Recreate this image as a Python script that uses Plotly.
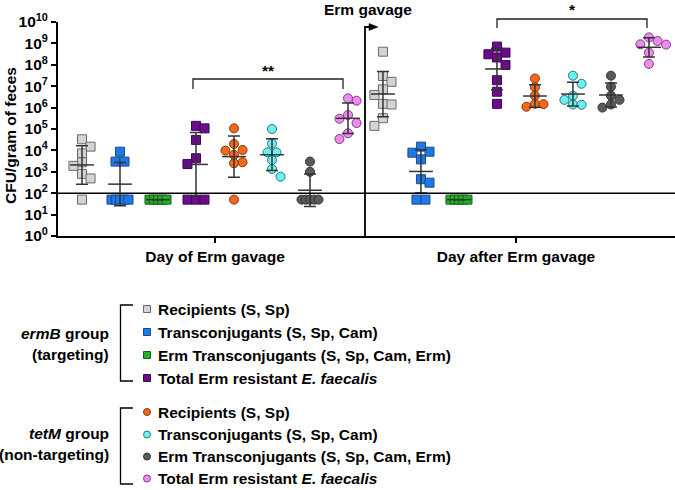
import numpy as np
import plotly.graph_objects as go

# ---------------- data (CFU / gram of feces; 50 = below detection) ----------------
days = ["Day of Erm gavage", "Day after Erm gavage"]
series_names = [
    "Recipients (S, Sp)",
    "Transconjugants (S, Sp, Cam)",
    "Erm Transconjugants (S, Sp, Cam, Erm)",
    "Total Erm resistant <i>E. faecalis</i>",
]
group_names = ["<i>ermB</i> group", "<i>tetM</i> group"]
group_sub = ["(targeting)", "(non-targeting)"]

LOD = 100

ermB_recip_d0 = [3.3e4, 1.5e4, 7.2e3, 2.8e3, 1.9e3, 8e2, 4.9e2, 50]
ermB_trans_d0 = [8.7e3, 3e3, 3e3, 50, 50, 50, 50, 50]
ermB_ermtr_d0 = [50, 50, 50, 50, 50]
ermB_total_d0 = [1.4e5, 1.07e5, 3.1e4, 4.3e3, 2.3e3, 50, 50, 50]
tetM_recip_d0 = [1.07e5, 2e4, 1.05e4, 9.8e3, 6.2e3, 2.8e3, 2.5e3, 50]
tetM_trans_d0 = [1.0e5, 2.1e4, 8.1e3, 8.1e3, 3.5e3, 1.35e3, 5.9e2]
tetM_ermtr_d0 = [3e3, 1e3, 50, 50, 50, 50, 50]
tetM_total_d0 = [2.1e6, 2.7e6, 4.5e5, 3e5, 1.9e5, 6.3e4, 3.4e4]

ermB_recip_d1 = [4.1e8, 3.0e7, 1.6e7, 7.1e6, 3.9e6, 1.5e6, 1.4e6, 3.2e5, 1.4e5]
ermB_trans_d1 = [1.5e4, 8.7e3, 7.8e3, 3.8e3, 4.5e2, 3.1e2, 50, 50]
ermB_ermtr_d1 = [50, 50, 50, 50, 50]
ermB_total_d1 = [7.1e8, 3.7e8, 3.1e8, 2.2e8, 9.8e7, 1.9e7, 5.5e6, 1.5e6]
tetM_recip_d1 = [2.3e7, 8.9e6, 3.6e6, 1.5e6, 1.1e6, 1.45e6]
tetM_trans_d1 = [3.1e7, 1.3e7, 3.6e6, 2.3e6, 1.4e6, 1.35e6]
tetM_ermtr_d1 = [3.1e7, 9.5e6, 3.6e6, 2.3e6, 1.4e6, 1.0e6]
tetM_total_d1 = [1.9e9, 1.3e9, 9.1e8, 8.8e8, 3.7e8, 1.1e8]

panels = [
    [ermB_recip_d0, ermB_trans_d0, ermB_ermtr_d0, ermB_total_d0,
     tetM_recip_d0, tetM_trans_d0, tetM_ermtr_d0, tetM_total_d0],
    [ermB_recip_d1, ermB_trans_d1, ermB_ermtr_d1, ermB_total_d1,
     tetM_recip_d1, tetM_trans_d1, tetM_ermtr_d1, tetM_total_d1],
]
significance = ["**", "*"]

# ---------------- styles ----------------
FILLS = ["#D3D3D3", "#1E78E6", "#22B022", "#6A0C8C",
         "#F2681C", "#6AF2F2", "#5A5A5A", "#F08AF0"]
EDGES = ["#6a6a6a", "#1b4a8a", "#1d5e1d", "#3a0850",
         "#8a3a0c", "#2a7676", "#333333", "#7e3f7e"]
SYMBOLS = ["square"] * 4 + ["circle"] * 4
FONT = "Liberation Sans, Arial, sans-serif"
FS = 15.5

W, H = 675, 490
PLOT_L, PLOT_R, PLOT_T, PLOT_B = 58, 675, 22, 236   # plot area in px
ML, MR, MT, MB = PLOT_L, W - PLOT_R, PLOT_T, H - PLOT_B
PW, PH = PLOT_R - PLOT_L, PLOT_B - PLOT_T
X0PX, XUNIT = 82, 38.0          # px of first group, px per group slot
PANEL_SHIFT = 7.92
PX_PER_DEC = PH / 10.0
MS = 9                            # marker size (px)


def px_x(px):
    return (px - PLOT_L) / PW


def px_y(py):
    return (PLOT_B - py) / PH


def swarm(vals):
    """Simple beeswarm: returns horizontal offsets (px) for the values."""
    logs = np.log10(np.asarray(vals, float))
    ypx = logs * PX_PER_DEC
    n = len(vals)
    off = np.zeros(n)
    placed = []
    levels = sorted(set(logs.tolist()), reverse=True)
    side = 1
    for lv in levels:
        idx = [i for i in range(n) if logs[i] == lv]
        if len(idx) > 1:
            sp = min(MS, (26 - MS) / (len(idx) - 1))
            row = (np.arange(len(idx)) - (len(idx) - 1) / 2) * sp
            for i, dx in zip(idx, row):
                off[i] = dx
                placed.append((dx, ypx[i]))
        else:
            i = idx[0]
            for k in [0, side, -side, 2 * side, -2 * side, 3 * side, -3 * side]:
                dx = k * MS * 0.95
                if all(np.hypot(dx - px, ypx[i] - py) >= MS * 0.9 for px, py in placed):
                    break
            if dx != 0:
                side = -side
            off[i] = dx
            placed.append((dx, ypx[i]))
    return off


fig = go.Figure()

for p, groups in enumerate(panels):
    for g, vals in enumerate(groups):
        xc = g + PANEL_SHIFT * p
        offs = swarm(vals) / XUNIT
        fig.add_trace(go.Scatter(
            x=xc + offs, y=vals, mode="markers", showlegend=False,
            marker=dict(symbol=SYMBOLS[g], size=MS, color=FILLS[g],
                        line=dict(color=EDGES[g], width=1)),
            hoverinfo="y"))

# mean +/- SD (on log scale)
for p, groups in enumerate(panels):
    for g, vals in enumerate(groups):
        lg = np.log10(np.asarray(vals, float))
        m, s = lg.mean(), lg.std(ddof=1)
        fig.add_trace(go.Scatter(
            x=[g + PANEL_SHIFT * p], y=[10 ** m], mode="markers", showlegend=False,
            marker=dict(symbol="line-ew", size=17, color="#333",
                        line=dict(color="#333", width=1.5)),
            error_y=dict(type="data", symmetric=False,
                         array=[10 ** (m + s) - 10 ** m],
                         arrayminus=[10 ** m - 10 ** (m - s)],
                         color="#333", thickness=1.5, width=6),
            hoverinfo="skip"))

shapes = []
annotations = []


def note(text, x, y, xanchor="center", size=FS, angle=0):
    annotations.append(dict(text=text, xref="paper", yref="paper", x=x, y=y,
                            xanchor=xanchor, yanchor="middle", showarrow=False,
                            textangle=angle,
                            font=dict(family=FONT, size=size, color="black")))


# limit of detection line
shapes.append(dict(type="line", xref="paper", yref="paper", x0=0, x1=1,
                   y0=np.log10(LOD) / 10, y1=np.log10(LOD) / 10,
                   line=dict(color="black", width=1.6)))

# Erm gavage separator with arrow
sep_x = px_x(365)
shapes.append(dict(type="path", xref="paper", yref="paper",
                   path=f"M{sep_x},0 L{sep_x},{px_y(27)} L{px_x(370)},{px_y(27)}",
                   line=dict(color="black", width=1.8)))
shapes.append(dict(type="path", xref="paper", yref="paper",
                   path=f"M{px_x(369)},{px_y(23.5)} L{px_x(378)},{px_y(27)} L{px_x(369)},{px_y(30.5)} Z",
                   fillcolor="black", line=dict(color="black", width=0.5)))
note("<b>Erm gavage</b>", px_x(368), px_y(10))

# significance brackets
bracket_px = [(193, 343, 79, 89, 70), (497, 647, 19, 28, 10)]
for (xl, xr, yt, yb, ys), sig in zip(bracket_px, significance):
    shapes.append(dict(type="path", xref="paper", yref="paper",
                       path=f"M{px_x(xl)},{px_y(yb)} L{px_x(xl)},{px_y(yt)} "
                            f"L{px_x(xr)},{px_y(yt)} L{px_x(xr)},{px_y(yb)}",
                       line=dict(color="#222", width=1.3)))
    note(f"<b>{sig}</b>", px_x((xl + xr) / 2), px_y(ys))

# y axis title
note("<b>CFU/gram of feces</b>", px_x(10), px_y(135), angle=-90)

# custom legend
rows_px = [[309, 332, 355, 378], [412, 434.5, 456.5, 478.5]]
brk_px = [(305, 381), (408, 484)]
lab_px = [(333, 354), (433, 454)]
for gi in range(2):
    top, bot = brk_px[gi]
    shapes.append(dict(type="path", xref="paper", yref="paper",
                       path=f"M{px_x(133)},{px_y(top)} L{px_x(120.5)},{px_y(top)} "
                            f"L{px_x(120.5)},{px_y(bot)} L{px_x(133)},{px_y(bot)}",
                       line=dict(color="black", width=1.3)))
    note(f"<b>{group_names[gi]}</b>", px_x(111), px_y(lab_px[gi][0]), xanchor="right")
    note(f"<b>{group_sub[gi]}</b>", px_x(111), px_y(lab_px[gi][1]), xanchor="right")
    for si in range(4):
        g = gi * 4 + si
        cy = rows_px[gi][si]
        r = 3.5
        shapes.append(dict(type="rect" if gi == 0 else "circle", xref="paper", yref="paper",
                           x0=px_x(147 - r), x1=px_x(147 + r),
                           y0=px_y(cy + r), y1=px_y(cy - r),
                           fillcolor=FILLS[g], line=dict(color=EDGES[g], width=1)))
        note(f"<b>{series_names[si]}</b>", px_x(156), px_y(cy), xanchor="left")

xr0 = (PLOT_L - X0PX) / XUNIT
xr1 = (PLOT_R - X0PX) / XUNIT
fig.update_layout(
    width=W, height=H, margin=dict(l=ML, r=MR, t=MT, b=MB, pad=0),
    paper_bgcolor="white", plot_bgcolor="white",
    shapes=shapes, annotations=annotations,
    xaxis=dict(range=[xr0, xr1], showgrid=False, zeroline=False,
               showline=True, linecolor="black", linewidth=2,
               ticks="outside", ticklen=5, tickwidth=2, tickcolor="black",
               tickvals=[3.5, 3.5 + PANEL_SHIFT],
               ticktext=[f"<b>{d}</b>" for d in days],
               tickfont=dict(family=FONT, size=FS, color="black")),
    yaxis=dict(type="log", range=[0, 10], showgrid=False, zeroline=False,
               showline=True, linecolor="black", linewidth=2,
               ticks="outside", ticklen=5, tickwidth=2, tickcolor="black",
               tickvals=[10 ** k for k in range(11)],
               ticktext=[f"<b>10<sup>{k}</sup></b>" for k in range(11)],
               tickfont=dict(family=FONT, size=FS, color="black")),
)

# the page's default 8px body margin would shift the 675x490 figure; remove it
fig.write_html("out.html", config={"displayModeBar": False},
               post_script="document.body.style.margin='0';document.body.style.overflow='hidden';")
